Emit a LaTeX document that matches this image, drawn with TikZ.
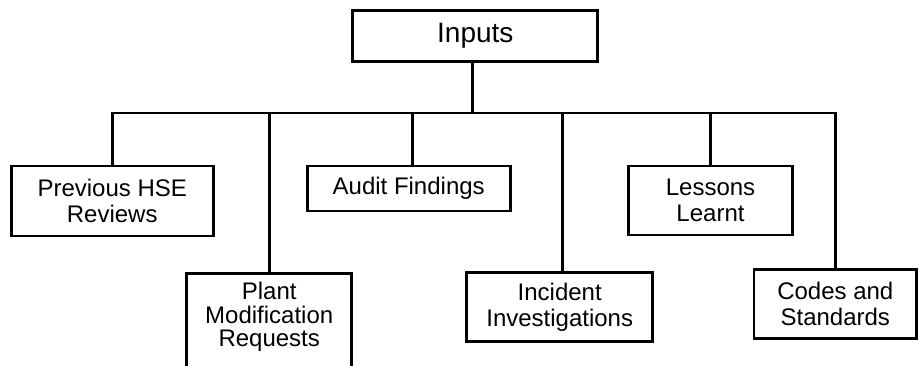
\documentclass[tikz,border=0pt]{standalone}
\usepackage{fontspec}
\setmainfont{Liberation Sans}
\begin{document}
\begin{tikzpicture}[x=1pt, y=-1pt,
  box/.style={draw, line width=2.8pt, inner sep=0pt, align=center,
    font=\fontsize{24}{26}\selectfont},
  link/.style={line width=2.8pt}]
\useasboundingbox (0,0) rectangle (923,365);
\clip (0,0) rectangle (923,365);

% top node
\node[box, minimum width=245pt, minimum height=51pt,
  font=\fontsize{28}{30}\selectfont] (inputs) at (475.3,36.2) {Inputs};

% input sources
\node[box, minimum width=202pt, minimum height=70pt] (prev) at (112.2,201) {Previous HSE\\Reviews};
\node[box, minimum width=203pt, minimum height=45pt] (audit) at (408.7,188.5) {Audit Findings};
\node[box, minimum width=164pt, minimum height=69pt] (lessons) at (710.5,200.4) {Lessons\\Learnt};
\node[box, minimum width=186pt, minimum height=69pt] (incident) at (559.7,307) {Incident\\Investigations};
\node[box, minimum width=162.5pt, minimum height=69pt] (codes) at (835.3,303.8) {Codes and\\Standards};
% this box runs past the lower edge
\node[box, minimum width=165pt, minimum height=110pt, anchor=north] (plant) at (269.2,272) {};
\node[align=center, inner sep=0pt, font=\fontsize{24}{23.5}\selectfont] (planttext) at (269.2,317) {Plant\\Modification\\Requests};

% distribution bus
\coordinate (bus) at (472.7,113);
\draw[link] (inputs.south -| bus) -- (bus);
\draw[link] (prev.north) |- (bus) -| (codes.north);
\draw[link] (plant.north) -- (plant.north |- bus);
\draw[link] ([xshift=4pt]audit.north) -- ([xshift=4pt]audit.north |- bus);
\draw[link] ([xshift=3pt]incident.north) -- ([xshift=3pt]incident.north |- bus);
\draw[link] (lessons.north) -- (lessons.north |- bus);
\end{tikzpicture}
\end{document}
